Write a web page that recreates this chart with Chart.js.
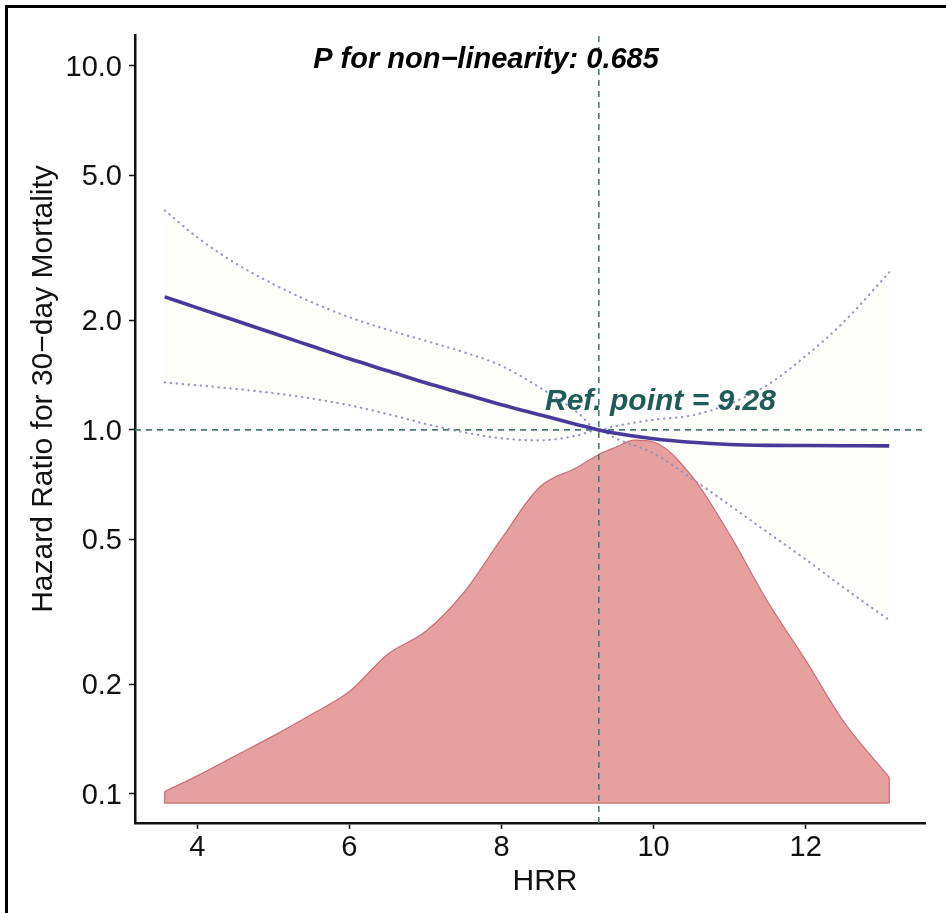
<!DOCTYPE html>
<html>
<head>
<meta charset="utf-8">
<script src="https://cdn.jsdelivr.net/npm/chart.js@4.4.0/dist/chart.umd.min.js"></script>
<style>
  html, body { margin: 0; padding: 0; background: #fff; }
  #wrap { width: 946px; height: 913px; }
</style>
</head>
<body>
<div id="wrap"><canvas id="chart0" width="946" height="913"></canvas></div>
<script>
// HRR values the spline curves were read at
const hrr_x    = [3.57, 4, 4.5, 5, 5.5, 6, 6.5, 7, 7.5, 8, 8.5, 9, 9.28, 9.5, 10, 10.5, 11, 11.5, 12, 12.5, 13.1];
const hr_mid   = [2.32, 2.164, 1.997, 1.843, 1.70, 1.568, 1.454, 1.347, 1.257, 1.173, 1.101, 1.034, 1.0, 0.979, 0.946, 0.925, 0.912, 0.907, 0.906, 0.905, 0.904];
const hr_upper = [4.01, 3.38, 2.871, 2.515, 2.246, 2.04, 1.885, 1.758, 1.636, 1.50, 1.309, 1.117, 1.0, 1.024, 1.067, 1.096, 1.179, 1.33, 1.596, 1.978, 2.709];
const hr_lower = [1.35, 1.326, 1.296, 1.262, 1.22, 1.169, 1.106, 1.039, 0.986, 0.948, 0.936, 0.966, 1.0, 0.948, 0.862, 0.736, 0.621, 0.523, 0.441, 0.369, 0.300];

// HRR distribution (scaled density)
const dens_x = [3.57, 4, 4.5, 5, 5.5, 6, 6.5, 7, 7.5, 8, 8.5, 9, 9.28, 9.5, 9.75, 10, 10.5, 11, 11.5, 12, 12.5, 13.1];
const dens_y = [0.008, 0.019, 0.033, 0.047, 0.062, 0.078, 0.104, 0.120, 0.147, 0.185, 0.221, 0.235, 0.244, 0.249, 0.254, 0.2527, 0.229, 0.188, 0.141, 0.100, 0.057, 0.018];

const xTicks = [4, 6, 8, 10, 12];
const yTicks = [0.1, 0.2, 0.5, 1.0, 2.0, 5.0, 10.0];
const refPoint = 9.28;
const refHR = 1.0;
const pNonLinear = "0.685";

const X_MIN = 3.18, X_MAX = 13.57;
const Y_MIN = 0.0832, Y_MAX = 12.16;
const D_MIN = -0.014, D_MAX = 0.5376;

const FONT = '"Liberation Sans", Arial, Helvetica, sans-serif';

function pts(xs, ys) {
  return xs.map((x, i) => ({ x: x, y: ys[i] }));
}

const overlay = {
  id: 'overlay',
  beforeDraw(chart) {
    const c = chart.ctx;
    c.save();
    c.fillStyle = '#fff';
    c.fillRect(0, 0, chart.width, chart.height);
    c.fillStyle = '#000';
    c.fillRect(5, 5, chart.width - 5, 3);
    c.fillRect(5, 5, 3, chart.height - 5);
    c.restore();
  },
  afterDraw(chart) {
    const c = chart.ctx;
    c.save();
    c.fillStyle = '#000';
    c.font = 'italic bold 29px ' + FONT;
    c.textAlign = 'center';
    c.textBaseline = 'alphabetic';
    c.fillText('P for non\u2212linearity: ' + pNonLinear, 486, 68);

    c.fillStyle = '#1f5c57';
    c.font = 'italic bold 30px ' + FONT;
    c.textAlign = 'left';
    c.fillText('Ref. point = ' + refPoint.toFixed(2), 545, 410);

    c.fillStyle = '#111';
    c.font = '30px ' + FONT;
    c.textAlign = 'center';
    c.textBaseline = 'middle';
    c.fillText('HRR', 545, 882);

    c.translate(44, 389);
    c.rotate(-Math.PI / 2);
    c.fillText('Hazard Ratio for 30\u2212day Mortality', 0, 0);
    c.restore();
  }
};

const ctx = document.getElementById("chart0").getContext("2d");

const ciStyle = {
  borderColor: "rgba(150,140,190,0.9)",
  borderWidth: 2.2,
  borderDash: [0.5, 5.5],
  borderCapStyle: "round",
  pointRadius: 0,
  cubicInterpolationMode: "monotone",
  fill: false,
  order: 2,
};

const myChart = new Chart(ctx, {
  type: "line",
  data: {
    datasets: [
      {
        // point estimate
        data: pts(hrr_x, hr_mid),
        borderColor: "#483a9a",
        borderWidth: 3.6,
        pointRadius: 0,
        cubicInterpolationMode: "monotone",
        fill: false,
        order: 1,
      },
      Object.assign({ data: pts(hrr_x, hr_upper) }, ciStyle),
      Object.assign({ data: pts(hrr_x, hr_lower) }, ciStyle),
      {
        // reference HR line
        data: [{ x: X_MIN, y: refHR }, { x: X_MAX, y: refHR }],
        borderColor: "#4a7a75",
        borderWidth: 1.6,
        borderDash: [6, 5],
        pointRadius: 0,
        fill: false,
        order: 3,
      },
      {
        // reference HRR line
        data: [{ x: refPoint, y: Y_MIN }, { x: refPoint, y: Y_MAX }],
        borderColor: "#4a7a75",
        borderWidth: 1.6,
        borderDash: [6, 5],
        pointRadius: 0,
        fill: false,
        order: 3,
      },
      {
        // density outline (sides + base)
        data: [
          { x: dens_x[0], y: dens_y[0] }, { x: dens_x[0], y: 0 },
          { x: dens_x[dens_x.length - 1], y: 0 }, { x: dens_x[dens_x.length - 1], y: dens_y[dens_y.length - 1] }
        ],
        yAxisID: "yd",
        borderColor: "#d27a7d",
        borderWidth: 1.5,
        pointRadius: 0,
        tension: 0,
        fill: false,
        order: 4,
      },
      {
        data: pts(dens_x, dens_y),
        yAxisID: "yd",
        borderColor: "#c9707a",
        borderWidth: 1.2,
        backgroundColor: "#e5a09f",
        pointRadius: 0,
        cubicInterpolationMode: "monotone",
        fill: "origin",
        order: 5,
      },
      {
        // CI ribbon
        data: pts(hrr_x, hr_upper),
        borderWidth: 0,
        borderColor: "rgba(0,0,0,0)",
        backgroundColor: "rgba(240,240,205,0.12)",
        pointRadius: 0,
        cubicInterpolationMode: "monotone",
        fill: "+1",
        order: 6,
      },
      {
        data: pts(hrr_x, hr_lower),
        borderWidth: 0,
        borderColor: "rgba(0,0,0,0)",
        pointRadius: 0,
        cubicInterpolationMode: "monotone",
        fill: false,
        order: 7,
      },
    ],
  },
  options: {
    responsive: false,
    animation: false,
    events: [],
    layout: { padding: { left: 0, right: 21, top: 35, bottom: 0 } },
    plugins: {
      legend: { display: false },
      tooltip: { enabled: false },
      title: { display: false },
    },
    scales: {
      x: {
        type: "linear",
        min: X_MIN,
        max: X_MAX,
        afterBuildTicks: (s) => { s.ticks = xTicks.map((v) => ({ value: v })); },
        afterFit: (s) => { s.height = 90; },
        grid: { drawOnChartArea: false, drawTicks: true, tickLength: 6, tickColor: "#111", tickWidth: 1.5 },
        border: { display: true, color: "#111", width: 2.5 },
        ticks: { color: "#111", font: { family: FONT, size: 29 }, padding: 2, maxRotation: 0 },
      },
      y: {
        type: "logarithmic",
        min: Y_MIN,
        max: Y_MAX,
        afterBuildTicks: (s) => { s.ticks = yTicks.map((v) => ({ value: v })); },
        afterFit: (s) => { s.width = 135; },
        grid: { drawOnChartArea: false, drawTicks: true, tickLength: 6, tickColor: "#111", tickWidth: 1.5 },
        border: { display: true, color: "#111", width: 2.5 },
        ticks: {
          color: "#111",
          font: { family: FONT, size: 29 },
          padding: 7,
          labelOffset: 2,
          autoSkip: false,
          callback: (v) => Number(v).toFixed(1),
        },
      },
      yd: {
        type: "linear",
        display: false,
        min: D_MIN,
        max: D_MAX,
      },
    },
  },
  plugins: [overlay],
});
</script>
</body>
</html>
